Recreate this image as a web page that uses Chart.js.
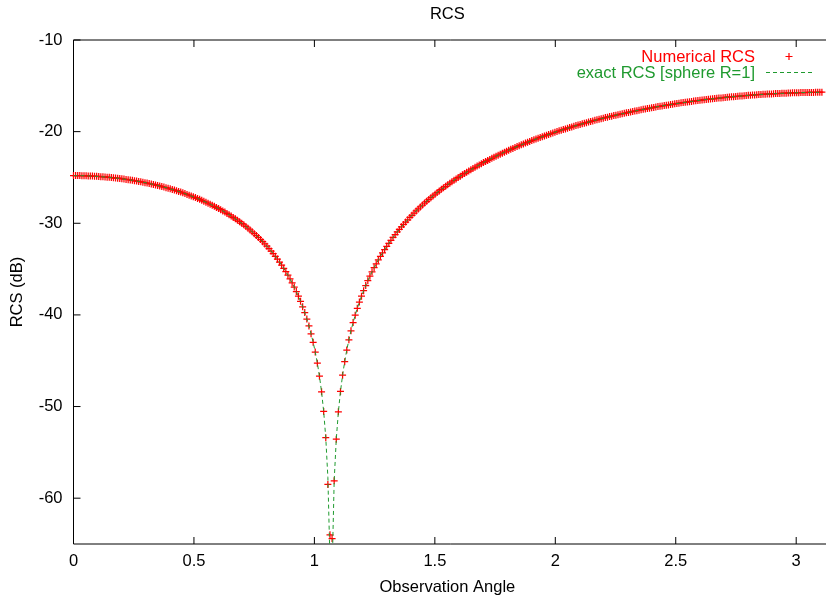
<!DOCTYPE html>
<html>
<head>
<meta charset="utf-8">
<script src="https://cdn.jsdelivr.net/npm/chart.js@4"></script>
<style>
html,body{margin:0;padding:0;background:#fff;overflow:hidden}
#wrap{width:826px;height:603px;position:relative}
</style>
</head>
<body>
<div id="wrap"><canvas id="c" width="826" height="603"></canvas></div>
<script>
// Observation angle samples (degrees, 0.5 deg step), converted to radians for the x axis
const angleDeg = [
0,0.5,1,1.5,2,2.5,3,3.5,4,4.5, 5,5.5,6,6.5,7,7.5,8,8.5,9,9.5,
10,10.5,11,11.5,12,12.5,13,13.5,14,14.5, 15,15.5,16,16.5,17,17.5,18,18.5,19,19.5,
20,20.5,21,21.5,22,22.5,23,23.5,24,24.5, 25,25.5,26,26.5,27,27.5,28,28.5,29,29.5,
30,30.5,31,31.5,32,32.5,33,33.5,34,34.5, 35,35.5,36,36.5,37,37.5,38,38.5,39,39.5,
40,40.5,41,41.5,42,42.5,43,43.5,44,44.5, 45,45.5,46,46.5,47,47.5,48,48.5,49,49.5,
50,50.5,51,51.5,52,52.5,53,53.5,54,54.5, 55,55.5,56,56.5,57,57.5,58,58.5,59,59.5,
60,60.5,61,61.5,62,62.5,63,63.5,64,64.5, 65,65.5,66,66.5,67,67.5,68,68.5,69,69.5,
70,70.5,71,71.5,72,72.5,73,73.5,74,74.5, 75,75.5,76,76.5,77,77.5,78,78.5,79,79.5,
80,80.5,81,81.5,82,82.5,83,83.5,84,84.5, 85,85.5,86,86.5,87,87.5,88,88.5,89,89.5,
90,90.5,91,91.5,92,92.5,93,93.5,94,94.5, 95,95.5,96,96.5,97,97.5,98,98.5,99,99.5,
100,100.5,101,101.5,102,102.5,103,103.5,104,104.5, 105,105.5,106,106.5,107,107.5,108,108.5,109,109.5,
110,110.5,111,111.5,112,112.5,113,113.5,114,114.5, 115,115.5,116,116.5,117,117.5,118,118.5,119,119.5,
120,120.5,121,121.5,122,122.5,123,123.5,124,124.5, 125,125.5,126,126.5,127,127.5,128,128.5,129,129.5,
130,130.5,131,131.5,132,132.5,133,133.5,134,134.5, 135,135.5,136,136.5,137,137.5,138,138.5,139,139.5,
140,140.5,141,141.5,142,142.5,143,143.5,144,144.5, 145,145.5,146,146.5,147,147.5,148,148.5,149,149.5,
150,150.5,151,151.5,152,152.5,153,153.5,154,154.5, 155,155.5,156,156.5,157,157.5,158,158.5,159,159.5,
160,160.5,161,161.5,162,162.5,163,163.5,164,164.5, 165,165.5,166,166.5,167,167.5,168,168.5,169,169.5,
170,170.5,171,171.5,172,172.5,173,173.5,174,174.5, 175,175.5,176,176.5,177,177.5,178,178.5,179,179.5,
180];

// Numerical RCS (dB)
const rcsNumerical = [
-24.80,-24.80,-24.80,-24.80,-24.81,-24.81,-24.82,-24.83,-24.84,-24.85,
-24.87,-24.88,-24.89,-24.91,-24.93,-24.95,-24.97,-24.99,-25.01,-25.03,
-25.06,-25.08,-25.11,-25.14,-25.18,-25.21,-25.24,-25.27,-25.31,-25.35,
-25.39,-25.43,-25.48,-25.52,-25.57,-25.61,-25.66,-25.71,-25.76,-25.81,
-25.87,-25.93,-25.99,-26.05,-26.11,-26.17,-26.24,-26.31,-26.38,-26.45,
-26.53,-26.60,-26.68,-26.76,-26.85,-26.93,-27.02,-27.11,-27.20,-27.29,
-27.39,-27.49,-27.60,-27.70,-27.81,-27.92,-28.03,-28.15,-28.27,-28.39,
-28.52,-28.65,-28.78,-28.92,-29.06,-29.21,-29.36,-29.51,-29.67,-29.83,
-30.00,-30.17,-30.35,-30.54,-30.73,-30.93,-31.13,-31.34,-31.56,-31.78,
-32.01,-32.25,-32.50,-32.76,-33.03,-33.31,-33.61,-33.91,-34.23,-34.57,
-34.91,-35.28,-35.67,-36.08,-36.51,-36.96,-37.45,-37.96,-38.52,-39.11,
-39.75,-40.45,-41.21,-42.06,-42.99,-44.05,-45.27,-46.69,-48.39,-50.53,
-53.40,-58.50,-64.00,-64.40,-58.10,-53.56,-50.58,-48.35,-46.58,-45.10,
-43.83,-42.72,-41.73,-40.84,-40.03,-39.28,-38.60,-37.96,-37.36,-36.80,
-36.27,-35.77,-35.30,-34.85,-34.42,-34.00,-33.61,-33.23,-32.87,-32.52,
-32.19,-31.86,-31.55,-31.25,-30.95,-30.67,-30.39,-30.13,-29.87,-29.62,
-29.37,-29.13,-28.89,-28.66,-28.44,-28.22,-28.01,-27.80,-27.60,-27.40,
-27.21,-27.02,-26.83,-26.65,-26.47,-26.30,-26.13,-25.96,-25.79,-25.63,
-25.47,-25.31,-25.16,-25.01,-24.86,-24.71,-24.57,-24.43,-24.30,-24.16,
-24.03,-23.89,-23.76,-23.63,-23.51,-23.38,-23.26,-23.14,-23.03,-22.91,
-22.79,-22.68,-22.57,-22.46,-22.35,-22.24,-22.14,-22.03,-21.93,-21.83,
-21.73,-21.63,-21.54,-21.44,-21.35,-21.25,-21.16,-21.07,-20.98,-20.89,
-20.81,-20.72,-20.63,-20.55,-20.47,-20.39,-20.31,-20.23,-20.15,-20.07,
-19.99,-19.91,-19.84,-19.77,-19.70,-19.63,-19.56,-19.49,-19.41,-19.34,
-19.28,-19.21,-19.15,-19.08,-19.02,-18.95,-18.89,-18.83,-18.77,-18.71,
-18.65,-18.59,-18.53,-18.47,-18.42,-18.36,-18.31,-18.25,-18.20,-18.15,
-18.10,-18.05,-18.00,-17.95,-17.90,-17.85,-17.80,-17.75,-17.71,-17.66,
-17.62,-17.57,-17.53,-17.48,-17.44,-17.40,-17.36,-17.31,-17.27,-17.23,
-17.19,-17.15,-17.12,-17.08,-17.04,-17.00,-16.97,-16.93,-16.90,-16.86,
-16.83,-16.80,-16.77,-16.73,-16.70,-16.67,-16.64,-16.61,-16.58,-16.55,
-16.52,-16.49,-16.47,-16.44,-16.42,-16.39,-16.37,-16.34,-16.32,-16.29,
-16.27,-16.24,-16.22,-16.20,-16.18,-16.16,-16.14,-16.12,-16.10,-16.08,
-16.06,-16.04,-16.03,-16.01,-15.99,-15.97,-15.96,-15.94,-15.93,-15.91,
-15.90,-15.89,-15.88,-15.86,-15.85,-15.84,-15.83,-15.82,-15.81,-15.80,
-15.79,-15.78,-15.77,-15.76,-15.76,-15.75,-15.74,-15.73,-15.73,-15.72,
-15.72,-15.72,-15.72,-15.71,-15.71,-15.70,-15.70,-15.70,-15.70,-15.70,
-15.70];

// Exact RCS for sphere R=1 (dB)
const rcsExact = [
-24.80,-24.80,-24.80,-24.80,-24.81,-24.81,-24.82,-24.83,-24.84,-24.85,
-24.87,-24.88,-24.89,-24.91,-24.93,-24.95,-24.97,-24.99,-25.01,-25.03,
-25.06,-25.08,-25.11,-25.14,-25.18,-25.21,-25.24,-25.27,-25.31,-25.35,
-25.39,-25.43,-25.48,-25.52,-25.57,-25.61,-25.66,-25.71,-25.76,-25.81,
-25.87,-25.93,-25.99,-26.05,-26.11,-26.17,-26.24,-26.31,-26.38,-26.45,
-26.53,-26.60,-26.68,-26.76,-26.85,-26.93,-27.02,-27.11,-27.20,-27.29,
-27.39,-27.49,-27.60,-27.70,-27.81,-27.92,-28.03,-28.15,-28.27,-28.39,
-28.52,-28.65,-28.78,-28.92,-29.06,-29.21,-29.36,-29.51,-29.67,-29.83,
-30.00,-30.17,-30.35,-30.54,-30.73,-30.93,-31.13,-31.34,-31.56,-31.78,
-32.01,-32.25,-32.50,-32.76,-33.03,-33.31,-33.61,-33.91,-34.23,-34.57,
-34.91,-35.28,-35.67,-36.08,-36.51,-36.96,-37.45,-37.96,-38.52,-39.11,
-39.75,-40.45,-41.21,-42.06,-42.99,-44.05,-45.27,-46.69,-48.39,-50.53,
-53.40,-57.73,-66.80,-68.13,-58.10,-53.56,-50.58,-48.35,-46.58,-45.10,
-43.83,-42.72,-41.73,-40.84,-40.03,-39.28,-38.60,-37.96,-37.36,-36.80,
-36.27,-35.77,-35.30,-34.85,-34.42,-34.00,-33.61,-33.23,-32.87,-32.52,
-32.19,-31.86,-31.55,-31.25,-30.95,-30.67,-30.39,-30.13,-29.87,-29.62,
-29.37,-29.13,-28.89,-28.66,-28.44,-28.22,-28.01,-27.80,-27.60,-27.40,
-27.21,-27.02,-26.83,-26.65,-26.47,-26.30,-26.13,-25.96,-25.79,-25.63,
-25.47,-25.31,-25.16,-25.01,-24.86,-24.71,-24.57,-24.43,-24.30,-24.16,
-24.03,-23.89,-23.76,-23.63,-23.51,-23.38,-23.26,-23.14,-23.03,-22.91,
-22.79,-22.68,-22.57,-22.46,-22.35,-22.24,-22.14,-22.03,-21.93,-21.83,
-21.73,-21.63,-21.54,-21.44,-21.35,-21.25,-21.16,-21.07,-20.98,-20.89,
-20.81,-20.72,-20.63,-20.55,-20.47,-20.39,-20.31,-20.23,-20.15,-20.07,
-19.99,-19.91,-19.84,-19.77,-19.70,-19.63,-19.56,-19.49,-19.41,-19.34,
-19.28,-19.21,-19.15,-19.08,-19.02,-18.95,-18.89,-18.83,-18.77,-18.71,
-18.65,-18.59,-18.53,-18.47,-18.42,-18.36,-18.31,-18.25,-18.20,-18.15,
-18.10,-18.05,-18.00,-17.95,-17.90,-17.85,-17.80,-17.75,-17.71,-17.66,
-17.62,-17.57,-17.53,-17.48,-17.44,-17.40,-17.36,-17.31,-17.27,-17.23,
-17.19,-17.15,-17.12,-17.08,-17.04,-17.00,-16.97,-16.93,-16.90,-16.86,
-16.83,-16.80,-16.77,-16.73,-16.70,-16.67,-16.64,-16.61,-16.58,-16.55,
-16.52,-16.49,-16.47,-16.44,-16.42,-16.39,-16.37,-16.34,-16.32,-16.29,
-16.27,-16.24,-16.22,-16.20,-16.18,-16.16,-16.14,-16.12,-16.10,-16.08,
-16.06,-16.04,-16.03,-16.01,-15.99,-15.97,-15.96,-15.94,-15.93,-15.91,
-15.90,-15.89,-15.88,-15.86,-15.85,-15.84,-15.83,-15.82,-15.81,-15.80,
-15.79,-15.78,-15.77,-15.76,-15.76,-15.75,-15.74,-15.73,-15.73,-15.72,
-15.72,-15.72,-15.72,-15.71,-15.71,-15.70,-15.70,-15.70,-15.70,-15.70,
-15.70];

const xTickValues = [0, 0.5, 1, 1.5, 2, 2.5, 3];
const yTickValues = [-10, -20, -30, -40, -50, -60];
const seriesLabels = ['Numerical RCS', 'exact RCS [sphere R=1]'];
const chartTitle = 'RCS';
const xTitle = 'Observation Angle';
const yTitle = 'RCS (dB)';

const X_MIN = 0, X_MAX = 3.104, Y_MIN = -65, Y_MAX = -10;
const RED = '#ff0000';
const GREEN = '#1f9a2f';
const FAMILY = '"Liberation Sans", Arial, Helvetica, sans-serif';
const FSIZE = 16.5;
const TICK_LEN = 7;

const toRad = d => d * Math.PI / 180;
const numericalPts = angleDeg.map((d, i) => ({x: toRad(d), y: rcsNumerical[i]}));
const exactPts = angleDeg.map((d, i) => ({x: toRad(d), y: rcsExact[i]}));

const framePlugin = {
  id: 'frame',
  beforeDatasetsDraw(chart) {
    const {ctx, chartArea: a, scales: {x, y}} = chart;
    const W = chart.width;
    ctx.save();
    ctx.strokeStyle = '#000';
    ctx.lineWidth = 1;
    ctx.beginPath();
    ctx.moveTo(W + 2, a.top);
    ctx.lineTo(a.left, a.top);
    ctx.lineTo(a.left, a.bottom);
    ctx.lineTo(W + 2, a.bottom);
    x.ticks.forEach(t => {
      const px = x.getPixelForValue(t.value);
      ctx.moveTo(px, a.bottom); ctx.lineTo(px, a.bottom - TICK_LEN);
      ctx.moveTo(px, a.top); ctx.lineTo(px, a.top + TICK_LEN);
    });
    y.ticks.forEach(t => {
      const py = y.getPixelForValue(t.value);
      ctx.moveTo(a.left, py); ctx.lineTo(a.left + TICK_LEN, py);
    });
    ctx.stroke();
    ctx.restore();
  }
};

const keyPlugin = {
  id: 'gnukey',
  afterDatasetsDraw(chart) {
    const ctx = chart.ctx;
    const textRight = 755, sampleX = 789, dashFrom = 766, dashTo = 814;
    const row1 = 57, row2 = 73.5;
    ctx.save();
    ctx.font = FSIZE + 'px ' + FAMILY;
    ctx.textAlign = 'right';
    ctx.textBaseline = 'middle';
    ctx.fillStyle = RED;
    ctx.fillText(seriesLabels[0], textRight, row1);
    ctx.fillStyle = GREEN;
    ctx.fillText(seriesLabels[1], textRight, row2);
    ctx.lineWidth = 1.2;
    ctx.strokeStyle = RED;
    ctx.beginPath();
    ctx.moveTo(sampleX - 3.5, row1 - 0.5); ctx.lineTo(sampleX + 3.5, row1 - 0.5);
    ctx.moveTo(sampleX, row1 - 4); ctx.lineTo(sampleX, row1 + 3);
    ctx.stroke();
    ctx.lineWidth = 1;
    ctx.strokeStyle = GREEN;
    ctx.setLineDash([4, 3]);
    ctx.beginPath();
    ctx.moveTo(dashFrom, row2 - 1); ctx.lineTo(dashTo, row2 - 1);
    ctx.stroke();
    ctx.restore();
  }
};

new Chart(document.getElementById('c'), {
  type: 'scatter',
  data: {
    datasets: [
      {
        label: seriesLabels[1],
        data: exactPts,
        showLine: true,
        borderColor: GREEN,
        borderWidth: 1,
        borderDash: [4, 3],
        pointRadius: 0,
        pointHoverRadius: 0,
        fill: false,
        tension: 0,
        order: 0
      },
      {
        label: seriesLabels[0],
        data: numericalPts,
        showLine: false,
        pointStyle: 'cross',
        pointRadius: 3.5,
        pointHoverRadius: 3.5,
        pointBorderColor: RED,
        pointBackgroundColor: RED,
        pointBorderWidth: 1.25,
        borderColor: RED,
        clip: false,
        order: 1
      }
    ]
  },
  options: {
    responsive: false,
    devicePixelRatio: 1,
    animation: false,
    events: [],
    layout: {padding: 0},
    plugins: {
      legend: {display: false},
      tooltip: {enabled: false},
      title: {
        display: true,
        text: chartTitle,
        color: '#000',
        fullSize: false,
        font: {family: FAMILY, size: FSIZE, weight: 'normal'},
        padding: {top: 5, bottom: 15.2}
      }
    },
    scales: {
      x: {
        type: 'linear',
        min: X_MIN,
        max: X_MAX,
        grid: {display: false, drawTicks: false},
        border: {display: false},
        afterBuildTicks: s => { s.ticks = xTickValues.map(v => ({value: v})); },
        afterFit: s => { s.height = 59; },
        ticks: {
          color: '#000',
          font: {family: FAMILY, size: FSIZE},
          padding: 8,
          maxRotation: 0,
          autoSkip: false,
          includeBounds: false,
          callback: v => String(v)
        },
        title: {
          display: true,
          text: xTitle,
          color: '#000',
          font: {family: FAMILY, size: FSIZE},
          padding: {top: 0, bottom: 6}
        }
      },
      y: {
        type: 'linear',
        min: Y_MIN,
        max: Y_MAX,
        grid: {display: false, drawTicks: false},
        border: {display: false},
        afterBuildTicks: s => { s.ticks = yTickValues.map(v => ({value: v})); },
        afterFit: s => { s.width = 73.5; },
        ticks: {
          color: '#000',
          font: {family: FAMILY, size: FSIZE},
          padding: 11,
          autoSkip: false,
          includeBounds: false,
          callback: v => String(v)
        },
        title: {
          display: true,
          text: yTitle,
          color: '#000',
          font: {family: FAMILY, size: FSIZE},
          padding: {top: 8, bottom: 0}
        }
      }
    }
  },
  plugins: [framePlugin, keyPlugin]
});
</script>
</body>
</html>
